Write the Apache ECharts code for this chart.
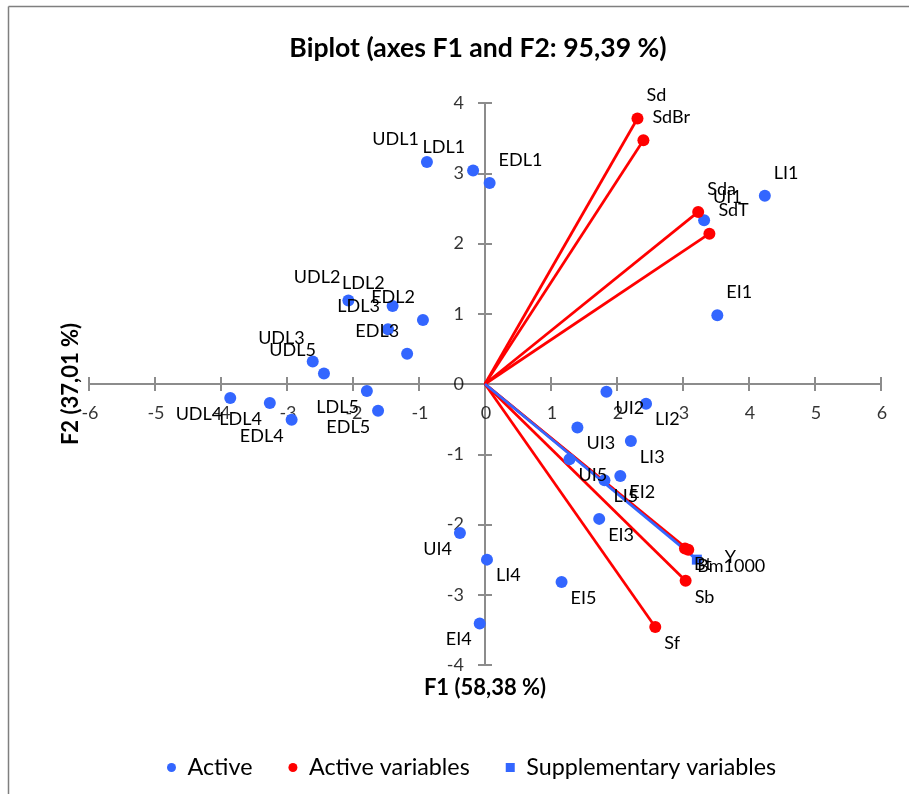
<!DOCTYPE html>
<html><head><meta charset="utf-8">
<script src="https://cdn.jsdelivr.net/npm/echarts@6/dist/echarts.min.js"></script>
<style>html,body{margin:0;padding:0;background:#fff}#c{width:909px;height:794px}</style>
</head><body><div id="c"></div>
<script>
// Observations (Active)
const obsNames = ['UDL1','LDL1','EDL1','UDL2','LDL2','EDL2','UDL3','LDL3','EDL3','UDL4','LDL4','EDL4','UDL5','LDL5','EDL5',
                  'UI1','LI1','EI1','UI2','LI2','EI2','UI3','LI3','EI3','UI4','LI4','EI4','UI5','LI5','EI5'];
const obsF1 = [-0.88,-0.18,0.07,-2.07,-1.40,-0.94,-2.61,-1.47,-1.18,-3.86,-3.26,-2.93,-2.44,-1.79,-1.62,
               3.32,4.24,3.52,1.84,2.44,2.05,1.40,2.21,1.73,-0.38,0.03,-0.08,1.28,1.81,1.16];
const obsF2 = [3.16,3.04,2.86,1.19,1.11,0.91,0.32,0.78,0.43,-0.20,-0.27,-0.51,0.15,-0.10,-0.38,
               2.33,2.68,0.98,-0.11,-0.28,-1.31,-0.62,-0.81,-1.92,-2.12,-2.50,-3.41,-1.07,-1.37,-2.82];
// Active variables
const varNames = ['Sd','SdBr','Sda','SdT','Bt','Bm1000','Sb','Sf'];
const varF1 = [2.31,2.40,3.23,3.40,3.03,3.08,3.04,2.58];
const varF2 = [3.78,3.47,2.45,2.14,-2.34,-2.36,-2.80,-3.46];
// Supplementary variables
const suppNames = ['Y'];
const suppF1 = [3.21];
const suppF2 = [-2.50];
// Axis tick labels
const xTickVals = [-6,-5,-4,-3,-2,-1,0,1,2,3,4,5,6];
const yTickVals = [-4,-3,-2,-1,0,1,2,3,4];
const titleText = 'Biplot (axes F1 and F2: 95,39 %)';
const xTitle = 'F1 (58,38 %)';
const yTitle = 'F2 (37,01 %)';
const legendNames = ['Active','Active variables','Supplementary variables'];

const FONT = 'Lato';
const BLUE = '#3366ff', RED = '#ff0000', AXIS = '#8c8c8c';

function quadLabel(x, y) {
  const right = x >= 0, up = y >= 0;
  return {show:true, position:'inside', formatter:'{b}', align: right ? 'left' : 'right', verticalAlign:'middle',
          offset:[right ? 9 : -8, up ? -23 : 16], color:'#000', fontFamily:FONT, fontSize:18};
}
const obsData = obsNames.map((n,i)=>({name:n, value:[obsF1[i], obsF2[i]], label: quadLabel(obsF1[i], obsF2[i])}));
const varData = varNames.map((n,i)=>({name:n, value:[varF1[i], varF2[i]], label: quadLabel(varF1[i], varF2[i])}));
const suppData = suppNames.map((n,i)=>({name:n, value:[suppF1[i], suppF2[i]],
  label:{show:true, position:'inside', formatter:'{b}', align:'left', verticalAlign:'middle', offset:[28,-2], color:'#000', fontFamily:FONT, fontSize:18}}));

const xMin = xTickVals[0], xMax = xTickVals[xTickVals.length-1];
const yMin = yTickVals[0], yMax = yTickVals[yTickVals.length-1];
const axisLineStyle = {color:AXIS, width:2};
function mkAxis(extra, mn, mx) {
  return Object.assign({type:'value', min:mn, max:mx, interval:1,
    axisLine:{onZero:true, lineStyle:axisLineStyle}, axisTick:{length:7, lineStyle:axisLineStyle},
    axisLabel:{show:false}, splitLine:{show:false}}, extra);
}
const chart = echarts.init(document.getElementById('c'), null, {renderer:'canvas'});
chart.setOption({
  animation:false,
  backgroundColor:'#fff',
  grid:{left:89, right:28, top:103, bottom:129, containLabel:false, outerBoundsMode:'none'},
  xAxis:[ mkAxis({}, xMin, xMax), mkAxis({position:'top'}, xMin, xMax) ],
  yAxis:[ mkAxis({}, yMin, yMax), mkAxis({position:'right'}, yMin, yMax) ],
  legend:{
    left:162, top:751, itemWidth:22, itemHeight:9, itemGap:36,
    textStyle:{fontFamily:FONT, fontSize:23.3, color:'#000'},
    data:[
      {name:legendNames[0], icon:'circle'},
      {name:legendNames[1], icon:'circle'},
      {name:legendNames[2], icon:'path://M0 0H10V10H0Z'}
    ]
  },
  graphic:[
    {type:'line', shape:{x1:8.5, y1:6.5, x2:909, y2:6.5}, style:{stroke:'#7f7f7f', lineWidth:1.5}},
    {type:'line', shape:{x1:8.5, y1:6.5, x2:8.5, y2:794}, style:{stroke:'#7f7f7f', lineWidth:1.5}},
    {type:'text', x:478, y:48, style:{text:titleText, fontFamily:FONT, fontSize:26.6, fontWeight:'bold', fill:'#000', textAlign:'center', textVerticalAlign:'middle'}},
    {type:'text', x:485, y:688, style:{text:xTitle, fontFamily:FONT, fontSize:22, fontWeight:'bold', fill:'#000', textAlign:'center', textVerticalAlign:'middle'}},
    {type:'text', x:71, y:384, rotation:Math.PI/2, style:{text:yTitle, fontFamily:FONT, fontSize:22, fontWeight:'bold', fill:'#000', textAlign:'center', textVerticalAlign:'middle'}}
  ],
  series:[
    {type:'lines', name:'vecActive', coordinateSystem:'cartesian2d', silent:true, z:2,
     lineStyle:{color:RED, width:2.75, opacity:1, curveness:0},
     data: varNames.map((n,i)=>({coords:[[0,0],[varF1[i],varF2[i]]]}))},
    {type:'lines', name:'vecSupp', coordinateSystem:'cartesian2d', silent:true, z:2,
     lineStyle:{color:BLUE, width:2.75, opacity:1, curveness:0},
     data: suppNames.map((n,i)=>({coords:[[0,0],[suppF1[i],suppF2[i]]]}))},
    {type:'scatter', name:'xTickLabels', symbolSize:0, silent:true, z:1,
     data: xTickVals.map(v=>[v,0]),
     label:{show:true, position:'inside', formatter:p=>String(p.value[0]), align:'center', verticalAlign:'middle', offset:[1,29], color:'#000', fontFamily:FONT, fontSize:18}},
    {type:'scatter', name:'yTickLabels', symbolSize:0, silent:true, z:1,
     data: yTickVals.map(v=>[0,v]),
     label:{show:true, position:'inside', formatter:p=>String(p.value[1]), align:'right', verticalAlign:'middle', offset:[-21,0], color:'#000', fontFamily:FONT, fontSize:18}},
    {type:'scatter', name:legendNames[0], symbol:'circle', symbolSize:12, itemStyle:{color:BLUE, opacity:1}, z:3, data:obsData},
    {type:'scatter', name:legendNames[1], symbol:'circle', symbolSize:12, itemStyle:{color:RED, opacity:1}, z:4, data:varData},
    {type:'scatter', name:legendNames[2], symbol:'rect', symbolSize:10, itemStyle:{color:BLUE, opacity:1}, z:4, data:suppData}
  ]
});
</script></body></html>
